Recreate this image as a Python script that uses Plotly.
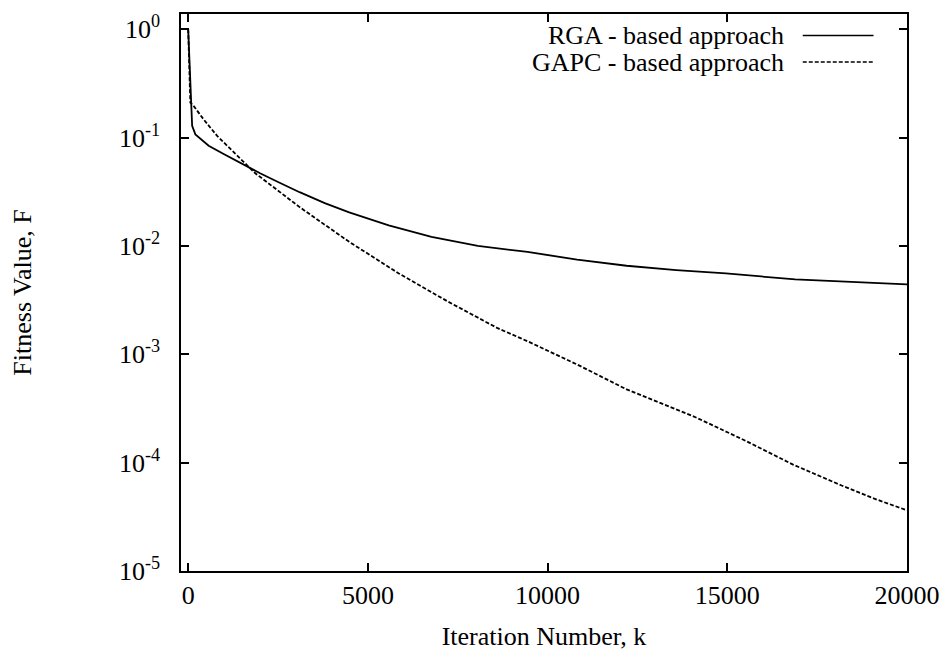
import plotly.graph_objects as go

# ---- data ----
rga_iter = [0, 60, 110, 200, 570, 1000, 1500, 2000, 2500, 3100, 3800, 4480, 5580,
            6770, 8060, 9440, 10820, 12200, 13580, 14960, 16890, 18270, 20000]
rga_val = [1.0, 0.32, 0.128, 0.107, 0.084, 0.0700, 0.0569, 0.0468, 0.0389, 0.0313,
           0.0248, 0.0204, 0.0155, 0.0121, 0.0100, 0.0088, 0.00748, 0.00656,
           0.00598, 0.00557, 0.00491, 0.00468, 0.00442]

gapc_iter = [0, 60, 155, 430, 800, 1860, 3100, 4480, 5860, 7230, 8610, 9440,
             10820, 12200, 14130, 15510, 16830, 18180, 19090, 20000]
gapc_val = [1.0, 0.21, 0.195, 0.147, 0.104, 0.047, 0.0228, 0.0109, 0.00557,
            0.00306, 0.00174, 0.00132, 0.000805, 0.000474, 0.000261,
            0.000159, 0.0000959, 0.0000615, 0.0000465, 0.0000363]

series_names = ["RGA - based approach", "GAPC - based approach"]

x_tick_vals = [0, 5000, 10000, 15000, 20000]
x_tick_text = ["0", "5000", "10000", "15000", "20000"]
y_tick_vals = [1e-5, 1e-4, 1e-3, 1e-2, 1e-1, 1e0]
y_tick_text = ["10<sup>-5</sup>", "10<sup>-4</sup>", "10<sup>-3</sup>",
               "10<sup>-2</sup>", "10<sup>-1</sup>", "10<sup>0</sup>"]

FONT = "Liberation Serif, Times New Roman, serif"
FS = 26

fig = go.Figure()
fig.add_trace(go.Scatter(x=rga_iter, y=rga_val, mode="lines", name=series_names[0],
                         line=dict(color="black", width=1.8, dash="solid"),
                         showlegend=False))
fig.add_trace(go.Scatter(x=gapc_iter, y=gapc_val, mode="lines", name=series_names[1],
                         line=dict(color="black", width=1.8, dash="4px,2px"),
                         showlegend=False))

# gnuplot-style key: text right-aligned, line sample to its right
key_y = [0.9614, 0.9138]
for name, ky, dash in zip(series_names, key_y, ["solid", "4px,2px"]):
    fig.add_annotation(xref="paper", yref="paper", x=0.8335, y=ky, text=name,
                       showarrow=False, xanchor="right", yanchor="middle",
                       font=dict(family=FONT, size=FS, color="black"))
    fig.add_shape(type="line", xref="paper", yref="paper", x0=0.8564, x1=0.9539,
                  y0=ky, y1=ky, line=dict(color="black", width=1.5, dash=dash))

axis_common = dict(showline=True, linecolor="black", linewidth=1.5, mirror="ticks",
                   ticks="inside", ticklen=8, tickwidth=1.5, tickcolor="black",
                   showgrid=False, zeroline=False,
                   tickfont=dict(family=FONT, size=FS, color="black"))

fig.update_layout(
    width=951, height=658,
    margin=dict(l=181, r=39, t=11, b=87),
    paper_bgcolor="white", plot_bgcolor="white",
    font=dict(family=FONT, size=FS, color="black"),
    xaxis=dict(range=[-200, 20000], tickvals=x_tick_vals, ticktext=x_tick_text,
               title=dict(text="Iteration Number, k", standoff=18,
                          font=dict(family=FONT, size=FS, color="black")),
               **axis_common),
    yaxis=dict(type="log", range=[-5, 0.14], tickvals=y_tick_vals, ticktext=y_tick_text,
               ticklabelstandoff=14,
               title=dict(text="Fitness Value, F", standoff=80,
                          font=dict(family=FONT, size=FS, color="black")),
               **axis_common),
)

fig.write_html("out.html")
